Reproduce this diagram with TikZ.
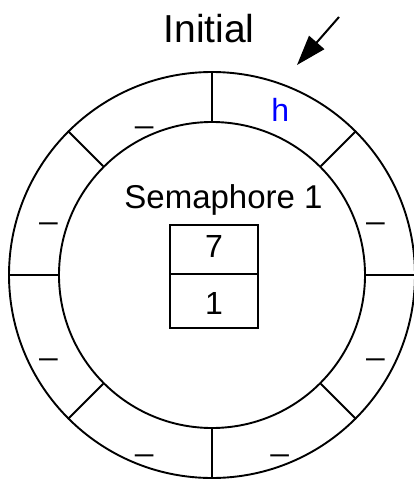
\documentclass[tikz,border=0pt]{standalone}
\usepackage{fontspec}
\setmainfont{Liberation Sans}
\usetikzlibrary{arrows.meta,calc}
\begin{document}
\begin{tikzpicture}[x=1pt,y=-1pt,line width=1.9pt,
  ring/.style={circle,draw,inner sep=0pt},
  lbl/.style={font=\fontsize{32}{36}\selectfont,inner sep=0pt,text height=23pt,text depth=0pt},
  cell/.style={draw,rectangle,minimum width=88pt,inner sep=0pt,font=\fontsize{32}{36}\selectfont},
  ptr/.style={-{Triangle[length=30pt,width=20pt]},line width=2pt}
]
\useasboundingbox (0,0) rectangle (414,479);
\coordinate (c) at (212,275);
\node[ring,minimum size=406pt] (outer) at (c) {};
\node[ring,minimum size=306pt] (inner) at (c) {};
\foreach \a in {0,45,...,315} \draw (inner.\a) -- (outer.\a);
\node[lbl,text=blue] (h) at ($(c)+(-67.5:178.5)$) {h};
\foreach \a/\n in {-112.5/s1,-157.5/s2,157.5/s3,112.5/s4,67.5/s5,22.5/s6,-22.5/s7}
  \node[lbl] (\n) at ($(c)+(\a:177)$) {\_};
\node[anchor=base,inner sep=0pt,font=\fontsize{39}{44}\selectfont] (init) at (209,42) {Initial};
\node[anchor=base,inner sep=0pt,font=\fontsize{33}{38}\selectfont] (sem) at (223.5,208) {Semaphore 1};
\node[cell,minimum height=49pt,text height=23pt,text depth=8pt] (v7) at (214,249.5) {7};
\node[cell,minimum height=54pt,text height=26pt,text depth=0pt] (v1) at (214,301) {1};
\coordinate (tail) at (339,17);
\coordinate (tip) at (297,65);
\draw[ptr] (tail) -- (tip);
\end{tikzpicture}
\end{document}
